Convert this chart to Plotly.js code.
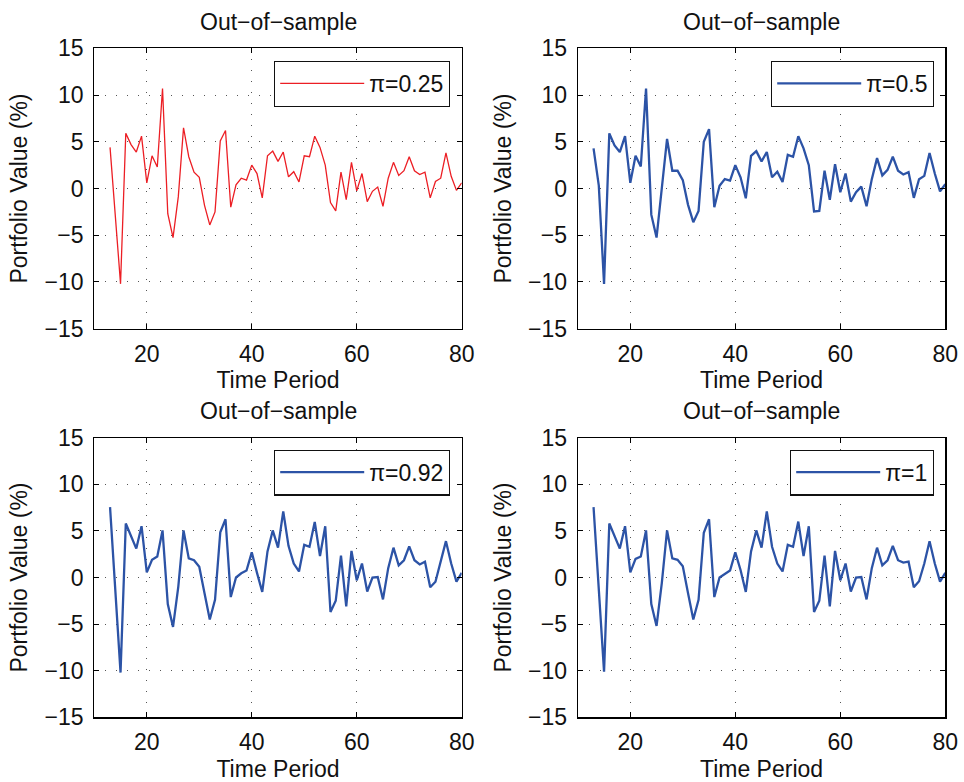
<!DOCTYPE html>
<html>
<head>
<meta charset="utf-8">
<script src="https://cdn.plot.ly/plotly-3.0.1.min.js"></script>
<style>html,body{margin:0;padding:0;background:#fff;}#chart{width:964px;height:782px;}</style>
</head>
<body>
<div id="chart"></div>
<script>
// Time periods (x values)
const periods = [13,14,15,16,17,18,19,20,21,22,23,24,25,26,27,28,29,30,31,32,33,34,35,36,37,38,39,40,41,42,43,44,45,46,
  47,48,49,50,51,52,53,54,55,56,57,58,59,60,61,62,63,64,65,66,67,68,69,70,71,72,73,74,75,76,77,78,79,80];

// Portfolio value (%) per panel
const val_pi025 = [4.4,-2.9,-10.2,5.9,4.7,3.9,5.6,0.6,3.5,2.3,10.7,-2.7,-5.25,-0.9,6.5,3.4,1.75,1.2,-1.8,-3.9,-2.5,5.1,6.2,-2.0,0.4,1.1,0.9,2.5,1.6,-1.0,3.5,4.0,2.9,3.9,
  1.25,1.8,0.7,3.5,3.4,5.6,4.4,2.5,-1.5,-2.4,1.75,-1.2,2.8,-0.25,1.6,-1.4,-0.3,0.15,-1.9,1.1,2.8,1.4,1.9,3.4,1.9,1.5,1.75,-1.0,0.75,1.1,3.8,1.3,-0.2,0.6];
const val_pi05 = [4.3,0.3,-10.2,5.9,4.6,3.9,5.6,0.6,3.5,2.35,10.7,-2.8,-5.25,-0.3,5.3,1.9,1.9,0.9,-1.75,-3.6,-2.4,5.0,6.35,-2.0,0.3,1.0,0.85,2.5,1.2,-1.05,3.5,4.0,2.9,3.9,
  1.2,1.8,0.7,3.6,3.4,5.6,4.3,2.5,-2.45,-2.4,1.9,-1.2,2.6,-0.4,1.6,-1.4,-0.4,0.2,-1.9,1.0,3.25,1.4,2.0,3.4,1.9,1.5,1.75,-1.0,1.0,1.35,3.8,1.6,-0.3,0.45];
const val_pi092 = [7.55,-1.3,-10.2,5.8,4.5,3.1,5.5,0.55,1.9,2.25,5.05,-2.85,-5.3,-1.0,5.05,2.05,1.85,1.15,-1.7,-4.5,-2.4,4.85,6.25,-2.1,0.0,0.45,0.75,2.7,0.5,-1.55,2.8,5.05,3.2,7.1,
  3.4,1.5,0.65,3.5,3.3,5.95,2.3,5.5,-3.7,-2.5,2.35,-3.1,2.85,-0.3,1.5,-1.5,0.0,0.05,-2.35,1.0,3.2,1.3,1.85,3.35,1.85,1.4,1.7,-1.05,-0.45,1.7,3.9,1.5,-0.45,0.5];
const val_pi1 = [7.55,-1.3,-10.1,5.8,4.5,3.1,5.5,0.55,2.0,2.25,5.05,-2.85,-5.2,-0.6,5.05,2.05,1.9,1.2,-1.7,-4.5,-2.4,4.8,6.25,-2.1,0.0,0.4,0.75,2.7,0.8,-1.55,2.8,5.05,3.2,7.1,
  3.3,1.5,0.65,3.5,3.3,6.0,2.3,5.5,-3.7,-2.5,2.35,-3.1,2.85,-0.3,1.5,-1.5,0.0,0.05,-2.35,1.0,3.2,1.3,1.85,3.4,1.85,1.6,1.7,-1.05,-0.4,1.5,3.9,1.5,-0.45,0.5];

const seriesNames = ['π=0.25','π=0.5','π=0.92','π=1'];
const panelTitle = 'Out−of−sample';
const xTickVals = [20,40,60,80];
const yTickVals = [-15,-10,-5,0,5,10,15];
const xLabel = 'Time Period';
const yLabel = 'Portfolio Value (%)';

const RED = 'rgb(236,30,36)';
const BLUE = 'rgb(44,83,166)';
const FONT = 'Liberation Sans, Arial, Helvetica, sans-serif';
const FS = 23;

const traces = [
  {x: periods, y: val_pi025, name: seriesNames[0], xaxis:'x', yaxis:'y', legend:'legend', mode:'lines', line:{color:RED, width:1.3}},
  {x: periods, y: val_pi05, name: seriesNames[1], xaxis:'x2', yaxis:'y2', legend:'legend2', mode:'lines', line:{color:BLUE, width:2.3}},
  {x: periods, y: val_pi092, name: seriesNames[2], xaxis:'x3', yaxis:'y3', legend:'legend3', mode:'lines', line:{color:BLUE, width:2.3}},
  {x: periods, y: val_pi1, name: seriesNames[3], xaxis:'x4', yaxis:'y4', legend:'legend4', mode:'lines', line:{color:BLUE, width:2.3}}
];

const xdomL = [94.3/964, 461.7/964];
const xdomR = [577.8/964, 945.3/964];
const ydomT = [1-328.7/782, 1-48.3/782];
const ydomB = [1-717.3/782, 1-437.7/782];

function xax(dom, anchor){
  return {domain: dom, anchor: anchor, range:[10,80], tickvals: xTickVals, ticktext: xTickVals.map(String),
    ticks:'inside', ticklen:5, tickcolor:'#000', tickwidth:1, mirror:'ticks', showline:true, linecolor:'#000', linewidth:1.2,
    showgrid:true, gridcolor:'#555', gridwidth:1, griddash:'1px,10px', zeroline:false,
    tickfont:{family:FONT, size:FS, color:'#111'}, ticklabelstandoff:4,
    title:{text:xLabel, font:{family:FONT, size:FS, color:'#111'}, standoff:6}};
}
function yax(dom, anchor){
  return {domain: dom, anchor: anchor, range:[-15,15], tickvals: yTickVals,
    ticks:'inside', ticklen:5, tickcolor:'#000', tickwidth:1, mirror:'ticks', showline:true, linecolor:'#000', linewidth:1.2,
    showgrid:true, gridcolor:'#555', gridwidth:1, griddash:'1px,10px', zeroline:false,
    tickfont:{family:FONT, size:FS, color:'#111'}, ticklabelstandoff:5,
    title:{text:yLabel, font:{family:FONT, size:FS, color:'#111'}, standoff:10}};
}
function leg(xr, ytop, iw){
  return {x: xr, y: ytop, xanchor:'right', yanchor:'top', bgcolor:'#fff', bordercolor:'#111', borderwidth:1.2,
    font:{family:FONT, size:FS, color:'#111'}, itemwidth:iw, tracegroupgap:0};
}

const layout = {
  width:964, height:782, margin:{l:0,r:0,t:0,b:0}, paper_bgcolor:'#fff', plot_bgcolor:'#fff',
  showlegend:true, font:{family:FONT, size:FS, color:'#111'},
  xaxis: xax(xdomL,'y'), yaxis: yax(ydomT,'x'),
  xaxis2: xax(xdomR,'y2'), yaxis2: yax(ydomT,'x2'),
  xaxis3: xax(xdomL,'y3'), yaxis3: yax(ydomB,'x3'),
  xaxis4: xax(xdomR,'y4'), yaxis4: yax(ydomB,'x4'),
  legend: leg(450/964, 1-60.7/782, 84),
  legend2: leg(934/964, 1-60.7/782, 84),
  legend3: leg(450/964, 1-449.5/782, 84),
  legend4: leg(934/964, 1-449.5/782, 84),
  annotations: [
    {text:panelTitle, xref:'paper', yref:'paper', x:(xdomL[0]+xdomL[1])/2, y:1-22/782, xanchor:'center', yanchor:'middle', showarrow:false, font:{family:FONT,size:FS,color:'#111'}},
    {text:panelTitle, xref:'paper', yref:'paper', x:(xdomR[0]+xdomR[1])/2, y:1-22/782, xanchor:'center', yanchor:'middle', showarrow:false, font:{family:FONT,size:FS,color:'#111'}},
    {text:panelTitle, xref:'paper', yref:'paper', x:(xdomL[0]+xdomL[1])/2, y:1-411/782, xanchor:'center', yanchor:'middle', showarrow:false, font:{family:FONT,size:FS,color:'#111'}},
    {text:panelTitle, xref:'paper', yref:'paper', x:(xdomR[0]+xdomR[1])/2, y:1-411/782, xanchor:'center', yanchor:'middle', showarrow:false, font:{family:FONT,size:FS,color:'#111'}}
  ]
};

Plotly.newPlot('chart', traces, layout, {displayModeBar:false, staticPlot:true});
</script>
</body>
</html>
